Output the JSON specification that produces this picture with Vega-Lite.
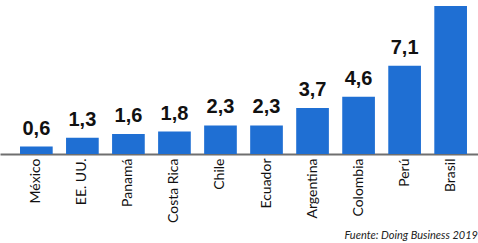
{
  "$schema": "https://vega.github.io/schema/vega-lite/v6.json",
  "autosize": "none",
  "width": 478,
  "height": 154,
  "padding": {"left": 0, "top": 0, "right": 0, "bottom": 89},
  "background": "white",
  "config": {
    "view": {"stroke": null},
    "locale": {"number": {"decimal": ",", "thousands": ".", "grouping": [3], "currency": ["", " €"]}}
  },
  "title": {
    "text": "Fuente: Doing Business 2019",
    "orient": "bottom",
    "anchor": "end",
    "font": "Lato",
    "fontStyle": "italic",
    "fontWeight": "normal",
    "fontSize": 11,
    "color": "#222",
    "offset": 8
  },
  "data": {
    "values": [
      {"pais": "México", "valor": 0.6},
      {"pais": "EE. UU.", "valor": 1.3},
      {"pais": "Panamá", "valor": 1.6},
      {"pais": "Costa Rica", "valor": 1.8},
      {"pais": "Chile", "valor": 2.3},
      {"pais": "Ecuador", "valor": 2.3},
      {"pais": "Argentina", "valor": 3.7},
      {"pais": "Colombia", "valor": 4.6},
      {"pais": "Perú", "valor": 7.1},
      {"pais": "Brasil", "valor": 11.9}
    ]
  },
  "encoding": {
    "x": {
      "field": "pais",
      "type": "nominal",
      "sort": null,
      "scale": {"paddingInner": 0.29, "paddingOuter": 0.337, "align": 0.645},
      "axis": {
        "title": null,
        "labelAngle": -90,
        "labelAlign": "right",
        "labelBaseline": "middle",
        "labelFont": "Lato",
        "labelFontSize": 14,
        "labelColor": "#111",
        "labelPadding": 4,
        "ticks": false,
        "domainColor": "#6f6f6f",
        "domainWidth": 2
      }
    },
    "y": {
      "field": "valor",
      "type": "quantitative",
      "scale": {"domain": [0, 12.38], "nice": false},
      "axis": null
    }
  },
  "layer": [
    {"mark": {"type": "bar", "color": "#1f6fd3"}},
    {
      "transform": [{"filter": "datum.pais !== 'Brasil'"}],
      "mark": {
        "type": "text",
        "baseline": "bottom",
        "dy": -8,
        "font": "Liberation Sans",
        "fontWeight": "bold",
        "fontSize": 20,
        "color": "#111"
      },
      "encoding": {"text": {"field": "valor", "type": "quantitative", "format": ".1f"}}
    }
  ]
}
